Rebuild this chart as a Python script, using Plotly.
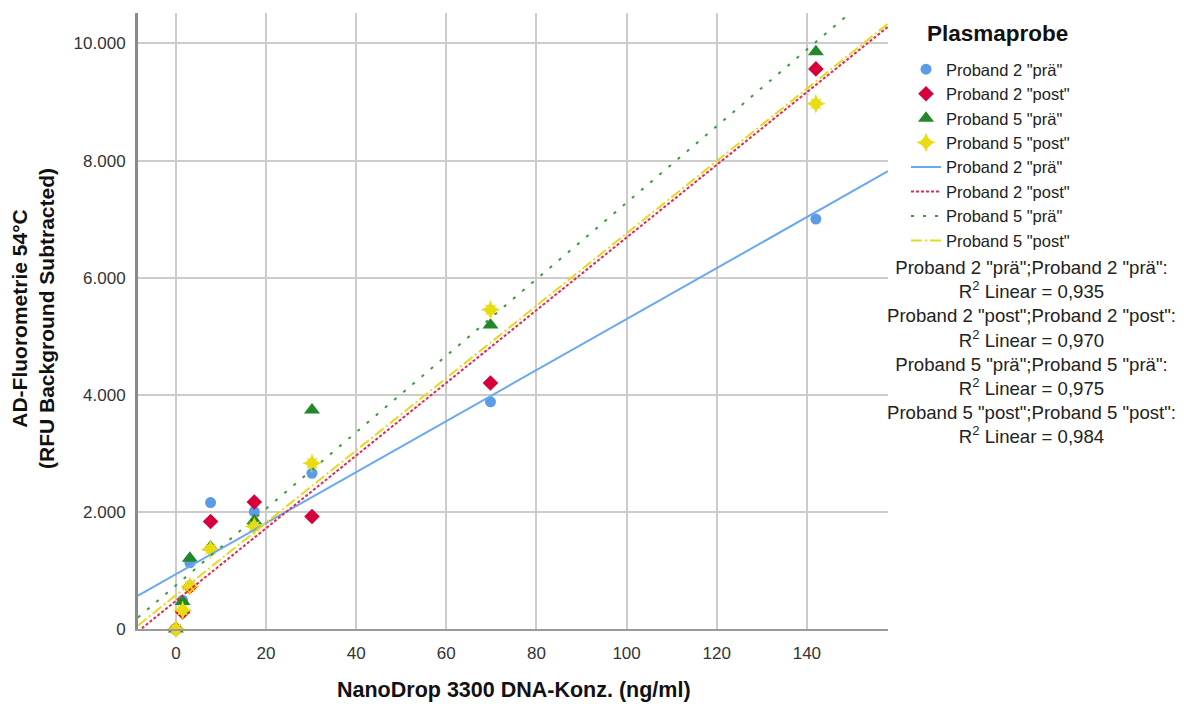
import numpy as np
import plotly.graph_objects as go

# ---------------- data ----------------
conc = [0, 1.5, 3.1, 7.7, 17.4, 30.2, 69.8, 142.0]          # NanoDrop 3300 DNA-Konz. (ng/ml)
p2_pre = [0, 490, 1130, 2160, 2005, 2660, 3880, 7000]        # Proband 2 "prä"
p2_post = [0, 290, 720, 1835, 2170, 1920, 4200, 9565]        # Proband 2 "post"
p5_pre = [0, 470, 1210, 1400, 1850, 3740, 5190, 9860]        # Proband 5 "prä"
p5_post = [0, 320, 730, 1360, 1750, 2830, 5450, 8970]        # Proband 5 "post"
series_names = ['Proband 2 "prä"', 'Proband 2 "post"', 'Proband 5 "prä"', 'Proband 5 "post"']
r2_labels = ['0,935', '0,970', '0,975', '0,984']
x_ticks = [0, 20, 40, 60, 80, 100, 120, 140]
y_ticks = [0, 2000, 4000, 6000, 8000, 10000]

# ---------------- styling ----------------
FONT = "Arial, Liberation Sans, sans-serif"
marker_colors = ["#5b9ce6", "#d6003a", "#23882b", "#e8dc12"]
line_colors = ["#6aa8f0", "#e8284a", "#3c9a3c", "#e6d820"]
line_dashes = ["solid", "3px,2px", "3px,9px", "11px,3px,2px,3px"]
x_range = [-8.4, 158.0]
y_range = [0, 10520]

fig = go.Figure()
series = [p2_pre, p2_post, p5_pre, p5_post]

# scatter markers
symbols = ["circle", "diamond", "triangle-up", "star-diamond"]
sizes = [11, 12, 14, 14]
for name, ys, col, sym, sz in zip(series_names, series, marker_colors, symbols, sizes):
    fig.add_trace(go.Scatter(
        x=conc, y=ys, mode="markers", name=name,
        marker=dict(symbol=sym, size=sz, color=col, line=dict(width=0)),
        cliponaxis=False, legendgroup=name + "m"))
    if sym == "star-diamond":
        # second spike set -> eight-point starburst
        fig.add_trace(go.Scatter(
            x=conc, y=ys, mode="markers", name=name, showlegend=False,
            marker=dict(symbol="star-square", size=10, color=col, line=dict(width=0)),
            cliponaxis=False, legendgroup=name + "m"))

# linear fit lines (least squares over the data, drawn across the axis range)
xl = np.array(x_range)
for name, ys, col, dash in zip(series_names, series, line_colors, line_dashes):
    slope, icpt = np.polyfit(conc, ys, 1)
    fig.add_trace(go.Scatter(
        x=xl, y=slope * xl + icpt, mode="lines", name=name,
        line=dict(color=col, width=2, dash=dash), legendgroup=name + "l"))

# R² text block
r2_lines = []
for name, r2 in zip(series_names, r2_labels):
    r2_lines.append(f"{name};{name}:")
    r2_lines.append(f"R<sup>2</sup> Linear = {r2}")

L, R, T, B = 138, 296, 13, 75
W, H = 1184, 704
pw, ph = W - L - R, H - T - B


def px_x(px):
    return (px - L) / pw


def px_y(py):
    return (H - B - py) / ph


annotations = [
    dict(text="<br>".join(r2_lines), x=px_x(1031), y=px_y(352), xref="paper", yref="paper",
         xanchor="center", yanchor="middle", showarrow=False, align="center",
         font=dict(family=FONT, size=18.6, color="#222")),
    dict(text="<b>Plasmaprobe</b>", x=px_x(997), y=px_y(34), xref="paper", yref="paper",
         xanchor="center", yanchor="middle", showarrow=False,
         font=dict(family=FONT, size=22.5, color="#111")),
    dict(text="<b>AD-Fluorometrie 54°C<br>(RFU Background Subtracted)</b>", textangle=-90,
         x=px_x(33), y=px_y(318), xref="paper", yref="paper",
         xanchor="center", yanchor="middle", showarrow=False,
         font=dict(family=FONT, size=21, color="#111")),
    dict(text="<b>NanoDrop 3300 DNA-Konz. (ng/ml)</b>",
         x=px_x(514), y=px_y(690), xref="paper", yref="paper",
         xanchor="center", yanchor="middle", showarrow=False,
         font=dict(family=FONT, size=21.5, color="#111")),
]

fig.update_layout(
    width=W, height=H,
    margin=dict(l=L, r=R, t=T, b=B),
    paper_bgcolor="white", plot_bgcolor="white",
    separators=",.",
    font=dict(family=FONT, size=17, color="#333"),
    showlegend=True,
    legend=dict(x=px_x(906), y=px_y(52), xanchor="left", yanchor="top",
                font=dict(family=FONT, size=16.5, color="#222"),
                bgcolor="rgba(0,0,0,0)", borderwidth=0, tracegroupgap=0,
                itemsizing="trace"),
    annotations=annotations,
    xaxis=dict(range=x_range, tickvals=x_ticks, showgrid=True, gridcolor="#cccccc",
               gridwidth=2, zeroline=False, showline=True, linecolor="#9a9a9a",
               linewidth=2, ticks="", ticklabelstandoff=8,
               tickfont=dict(family=FONT, size=17, color="#333")),
    yaxis=dict(range=y_range, tickvals=y_ticks, tickformat=",d", showgrid=True,
               gridcolor="#cccccc", gridwidth=2, zeroline=False, showline=True,
               linecolor="#8a8a8a", linewidth=3, ticks="", ticklabelstandoff=6,
               tickfont=dict(family=FONT, size=17, color="#333")),
)

fig.write_html("out.html")
